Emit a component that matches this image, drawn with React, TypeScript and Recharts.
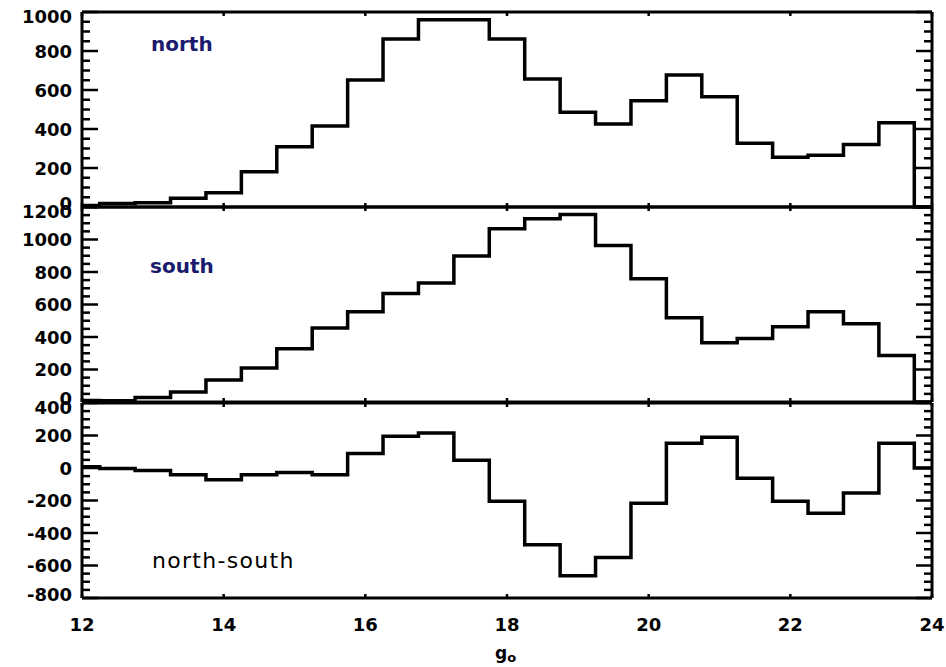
import React from "react";
import { LineChart, Line, XAxis, YAxis } from "recharts";

// bin centres (width 0.5) and counts
const binCenters = [12, 12.5, 13, 13.5, 14, 14.5, 15, 15.5, 16, 16.5, 17, 17.5, 18, 18.5, 19, 19.5, 20, 20.5, 21, 21.5, 22, 22.5, 23, 23.5, 24];
const north = [8, 18, 22, 45, 73, 181, 309, 415, 651, 862, 960, 960, 862, 656, 486, 426, 545, 677, 566, 327, 255, 265, 321, 432, 0];
const south = [10, 8, 28, 62, 136, 210, 327, 456, 555, 668, 733, 899, 1066, 1127, 1154, 963, 758, 518, 364, 391, 463, 555, 481, 286, 0];
const northMinusSouth = [8, -3, -16, -41, -72, -41, -27, -41, 90, 195, 215, 47, -205, -472, -663, -550, -217, 152, 189, -63, -205, -279, -154, 152, 0];

const xTicks = [12, 14, 16, 18, 20, 22, 24];
const northLabels = [0, 200, 400, 600, 800, 1000];
const southLabels = [0, 200, 400, 600, 800, 1000, 1200];
const diffLabels = [-800, -600, -400, -200, 0, 200, 400];

const X_MIN = 12;
const X_MAX = 24;
const HALF_BIN = 0.25;

// left edge of every bin, so stepAfter draws the histogram outline
const steps = [
  ...binCenters.map((c, i) => ({
    x: Math.max(X_MIN, c - HALF_BIN),
    north: north[i],
    south: south[i],
    diff: northMinusSouth[i],
  })),
  { x: X_MAX, north: 0, south: 0, diff: 0 },
];

function withMinors(labels: number[], minorStep = 50) {
  const out: number[] = [];
  for (let v = labels[0]; v <= labels[labels.length - 1]; v += minorStep) out.push(v);
  return out;
}

const FONT = "'DejaVu Sans', Arial, sans-serif";
const frame = { stroke: "#000", strokeWidth: 3 };

function LeftTick(props: any) {
  const { x, y, payload, labels } = props;
  const v = payload.value as number;
  const major = labels.includes(v);
  // end labels are nudged inside the panel so neighbouring panels don't collide
  let nudge = 0;
  if (v === labels[0]) nudge = -4;
  if (v === labels[labels.length - 1]) nudge = 4;
  return (
    <g>
      <line x1={x} x2={x + (major ? 16 : 8)} y1={y} y2={y} stroke="#000" strokeWidth={2.5} />
      {major ? (
        <text x={x - 10} y={y + nudge} dy={6.5} textAnchor="end" fontFamily={FONT} fontWeight="bold" fontSize={18} fill="#000">
          {String(v)}
        </text>
      ) : null}
    </g>
  );
}

function RightTick(props: any) {
  const { x, y, payload, labels } = props;
  const major = labels.includes(payload.value);
  return <line x1={x} x2={x - (major ? 16 : 8)} y1={y} y2={y} stroke="#000" strokeWidth={2.5} />;
}

function BottomTick(props: any) {
  const { x, y, payload, showLabel } = props;
  return (
    <g>
      <line x1={x} x2={x} y1={y} y2={y - 4} stroke="#000" strokeWidth={2.5} />
      {showLabel ? (
        <text x={x} y={y + 33} textAnchor="middle" fontFamily={FONT} fontWeight="bold" fontSize={18} fill="#000">
          {String(payload.value)}
        </text>
      ) : null}
    </g>
  );
}

function TopTick(props: any) {
  const { x, y } = props;
  return <line x1={x} x2={x} y1={y} y2={y + 4} stroke="#000" strokeWidth={2.5} />;
}

const PLOT_H = 195;
const TOP_H = 12;

function Panel({ top, dataKey, labels, bottomHeight, showX }: { top: number; dataKey: string; labels: number[]; bottomHeight: number; showX: boolean }) {
  const domain = [labels[0], labels[labels.length - 1]];
  const ticks = withMinors(labels);
  return (
    <div style={{ position: "absolute", left: 0, top }}>
      <LineChart width={946} height={TOP_H + PLOT_H + bottomHeight} data={steps} margin={{ top: 0, right: 0, bottom: 0, left: 0 }}>
        <XAxis
          xAxisId="b"
          dataKey="x"
          type="number"
          domain={[X_MIN, X_MAX]}
          ticks={xTicks}
          interval={0}
          height={bottomHeight}
          tickLine={false}
          tickSize={0}
          tickMargin={0}
          axisLine={frame}
          tick={(p: any) => <BottomTick {...p} showLabel={showX} />}
        />
        <XAxis
          xAxisId="t"
          orientation="top"
          dataKey="x"
          type="number"
          domain={[X_MIN, X_MAX]}
          ticks={xTicks}
          interval={0}
          height={TOP_H}
          tickLine={false}
          tickSize={0}
          tickMargin={0}
          axisLine={frame}
          tick={(p: any) => <TopTick {...p} />}
        />
        <YAxis
          yAxisId="l"
          type="number"
          domain={domain}
          ticks={ticks}
          interval={0}
          width={82}
          tickLine={false}
          tickSize={0}
          tickMargin={0}
          axisLine={frame}
          tick={(p: any) => <LeftTick {...p} labels={labels} />}
        />
        <YAxis
          yAxisId="r"
          orientation="right"
          type="number"
          domain={domain}
          ticks={ticks}
          interval={0}
          width={14}
          tickLine={false}
          tickSize={0}
          tickMargin={0}
          axisLine={frame}
          tick={(p: any) => <RightTick {...p} labels={labels} />}
        />
        <Line
          xAxisId="b"
          yAxisId="l"
          type="stepAfter"
          dataKey={dataKey}
          stroke="#000"
          strokeWidth={3.5}
          dot={false}
          activeDot={false}
          isAnimationActive={false}
        />
        <Line xAxisId="t" yAxisId="r" dataKey={dataKey} stroke="none" dot={false} activeDot={false} isAnimationActive={false} />
      </LineChart>
    </div>
  );
}

export default function App() {
  return (
    <div style={{ position: "absolute", left: 0, top: 0, width: 946, height: 667, background: "#fff", overflow: "hidden" }}>
      <Panel top={0} dataKey="north" labels={northLabels} bottomHeight={12} showX={false} />
      <Panel top={195} dataKey="south" labels={southLabels} bottomHeight={12} showX={false} />
      <Panel top={391} dataKey="diff" labels={diffLabels} bottomHeight={69} showX={true} />
      <svg width={946} height={667} style={{ position: "absolute", left: 0, top: 0, pointerEvents: "none" }}>
        <text x={151} y={51} fontFamily={FONT} fontWeight="bold" fontSize={20} fill="#1a1a6e">
          north
        </text>
        <text x={150} y={273} fontFamily={FONT} fontWeight="bold" fontSize={20} fill="#1a1a6e">
          south
        </text>
        <text x={152} y={568} fontFamily={FONT} fontSize={22} letterSpacing={1.3} fill="#000">
          north-south
        </text>
        <text x={495} y={659} fontFamily={FONT} fontWeight="bold" fontSize={17} fill="#000">
          g
          <tspan fontSize={13} dy={3}>
            o
          </tspan>
        </text>
      </svg>
    </div>
  );
}
